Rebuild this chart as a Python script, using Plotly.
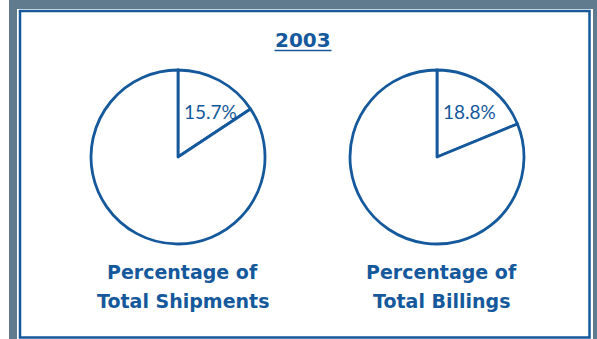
import plotly.graph_objects as go

W, H = 597, 339
BLUE = "#15599c"
GRAY = "#5f7b8d"

year = "2003"
categories = ["Selected", "Other"]
shipments = [15.7, 84.3]
billings = [18.8, 81.2]
title_line1 = ["Percentage of", "Percentage of"]
title_line2 = ["Total Shipments", "Total Billings"]

def px_x(x):
    return x / W

def px_y(y):
    return 1 - y / H

R = 87
centers = [(178, 157), (437, 157)]
LABEL_FONT = "DejaVu Sans"

fig = go.Figure()
for i, ((cx, cy), vals) in enumerate(zip(centers, [shipments, billings])):
    fig.add_trace(go.Pie(
        labels=categories,
        values=vals,
        sort=False,
        direction="clockwise",
        rotation=0,
        textinfo="none",
        marker=dict(colors=["white", "white"], line=dict(color=BLUE, width=2.8)),
        domain=dict(x=[px_x(cx - R), px_x(cx + R)], y=[px_y(cy + R), px_y(cy - R)]),
        showlegend=False,
        hoverinfo="skip",
    ))
    # slice value label
    fig.add_annotation(
        x=px_x(cx + 3.5), y=px_y(cy - 45.5), xref="paper", yref="paper",
        text=f"{vals[0]}%", showarrow=False,
        font=dict(family="Lato", size=19, color=BLUE, weight=400),
        xanchor="left", yanchor="middle",
    )
    fig.add_annotation(
        x=px_x(cx + 4), y=px_y(272), xref="paper", yref="paper",
        text=f"<b>{title_line1[i]}</b>", showarrow=False,
        font=dict(family=LABEL_FONT, size=19, color=BLUE),
        xanchor="center", yanchor="middle",
    )
    fig.add_annotation(
        x=px_x(cx + 5), y=px_y(300.5), xref="paper", yref="paper",
        text=f"<b>{title_line2[i]}</b>", showarrow=False,
        font=dict(family=LABEL_FONT, size=19, color=BLUE),
        xanchor="center", yanchor="middle",
    )

fig.add_annotation(
    x=px_x(303), y=px_y(40.5), xref="paper", yref="paper",
    text=f"<b>{year}</b>", showarrow=False,
    font=dict(family=LABEL_FONT, size=20, color=BLUE),
    xanchor="center", yanchor="middle",
)

shapes = [
    dict(type="rect", xref="paper", yref="paper", x0=px_x(9), x1=px_x(597), y0=px_y(339), y1=px_y(0),
         fillcolor=GRAY, line=dict(width=0), layer="below"),
    dict(type="rect", xref="paper", yref="paper", x0=px_x(17), x1=px_x(593), y0=px_y(339), y1=px_y(9),
         fillcolor="white", line=dict(width=0), layer="below"),
    dict(type="rect", xref="paper", yref="paper", x0=px_x(20), x1=px_x(589.5), y0=px_y(337.5), y1=px_y(11),
         fillcolor="white", line=dict(color=BLUE, width=2.5), layer="below"),
    # underline of the year
    dict(type="line", xref="paper", yref="paper", x0=px_x(274.5), x1=px_x(331.5), y0=px_y(50.5), y1=px_y(50.5),
         line=dict(color=BLUE, width=1.5)),
]

fig.update_layout(
    width=W, height=H,
    margin=dict(l=0, r=0, t=0, b=0),
    paper_bgcolor="white",
    plot_bgcolor="white",
    shapes=shapes,
)

fig.write_html("out.html")
